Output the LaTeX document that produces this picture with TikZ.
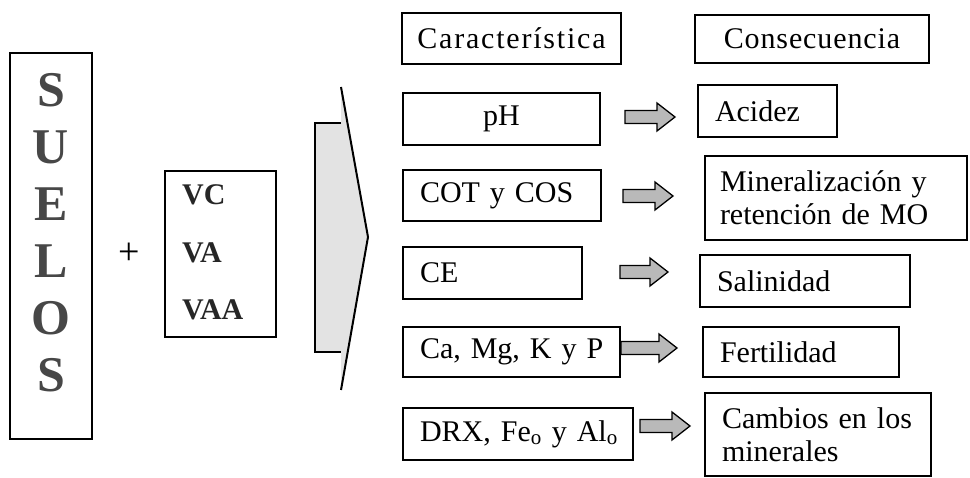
\documentclass[tikz,border=0pt]{standalone}
\usepackage{fontspec}
\setmainfont{Liberation Serif}
\newcommand\txtsize{\fontsize{30}{33}\selectfont}
\tikzset{
  box/.style={draw=black, line width=2.6pt, inner ysep=0pt, outer sep=0pt,
    anchor=north west, font=\txtsize},
  lbox/.style={box, align=left, inner xsep=17pt},
  cbox/.style={box, align=center, inner xsep=4pt},
  % block arrow pointing right, length #1, starting at the pic origin
  pics/fatarrow/.style={code={
    \draw[line width=1.3pt, line join=miter, fill=gray!55]
      (0,-6.5) -- ({#1-18},-6.5) -- ({#1-18},-14) -- (#1,0)
      -- ({#1-18},14) -- ({#1-18},6.5) -- (0,6.5) -- cycle;
  }},
  bigletter/.style={font=\fontsize{50}{57}\selectfont\bfseries, text=black!72,
    inner sep=0pt, anchor=base},
  vlabel/.style={font=\fontsize{30}{33}\selectfont\bfseries, text=black!85,
    inner sep=0pt, anchor=base west}
}
\begin{document}
\begin{tikzpicture}[x=1pt, y=-1pt]
\useasboundingbox (0,0) rectangle (970,478);

% soil column
\node[box, minimum width=82pt, minimum height=386pt] (suelos) at (10,53) {};
\foreach \ch [count=\i] in {S,U,E,L,O,S}
  \node[bigletter] (l\i) at (51,{107+57*(\i-1)}) {\ch};

\node[font=\fontsize{38}{40}\selectfont, inner sep=0pt] (plus) at (129,254) {+};

% treatments
\node[box, minimum width=111pt, minimum height=166pt] (trat) at (165,171) {};
\node[vlabel] (vc) at (182,205) {VC};
\node[vlabel] (va) at (182,263) {VA};
\node[vlabel] (vaa) at (182,320) {VAA};

% large stippled arrow
\fill[gray!22] (315,123) -- (341,123) -- (341,87) -- (368,237) -- (341,390)
  -- (341,352) -- (315,352) -- cycle;
\draw[line width=2pt, line join=miter] (341,123) -- (315,123) -- (315,352) -- (341,352);
\draw[line width=2pt, line join=miter] (341,87) -- (368,237) -- (341,390);

% headers
\node[cbox, minimum width=219pt, minimum height=51pt] (hcar) at (402,13)
  {\addfontfeature{LetterSpace=6}Característica};
\node[cbox, minimum width=234pt, minimum height=48pt] (hcons) at (695,15)
  {\addfontfeature{LetterSpace=3}Consecuencia};

% characteristics
\node[cbox, minimum width=197pt, minimum height=52pt] (ph) at (403,93) {pH};
\node[lbox, text width=164pt, minimum height=51pt] (cot) at (403,170) {\mbox{COT y COS}};
\node[lbox, text width=145pt, minimum height=52pt] (ce) at (403,247) {\mbox{CE}};
\node[lbox, text width=183pt, minimum height=50pt] (ca) at (403,327) {\mbox{Ca, Mg, K y P}};
\node[lbox, text width=196pt, minimum height=52pt] (drx) at (403,408)
  {\mbox{DRX, Fe\textsubscript{o} y Al\textsubscript{o}}};

% consequences
\node[lbox, text width=105pt, minimum height=52pt] (acid) at (698,85) {\mbox{Acidez}};
\node[lbox, inner xsep=15pt, text width=232pt, minimum height=84pt] (mine) at (705,156)
  {\mbox{Mineralización y}\\\mbox{retención de MO}};
\node[lbox, text width=176pt, minimum height=52pt] (sal) at (700,255) {\mbox{Salinidad}};
\node[lbox, text width=162pt, minimum height=50pt] (fert) at (703,327) {\mbox{Fertilidad}};
\node[lbox, text width=192pt, minimum height=83pt] (camb) at (705,393)
  {\mbox{Cambios en los}\\\mbox{minerales}};

% links characteristic -> consequence
\pic (a1) at (625,117) {fatarrow=50};
\pic (a2) at (623,196) {fatarrow=50};
\pic (a3) at (620,272) {fatarrow=48};
\pic (a4) at (621,348) {fatarrow=56};
\pic (a5) at (640,426) {fatarrow=50};
\end{tikzpicture}
\end{document}
